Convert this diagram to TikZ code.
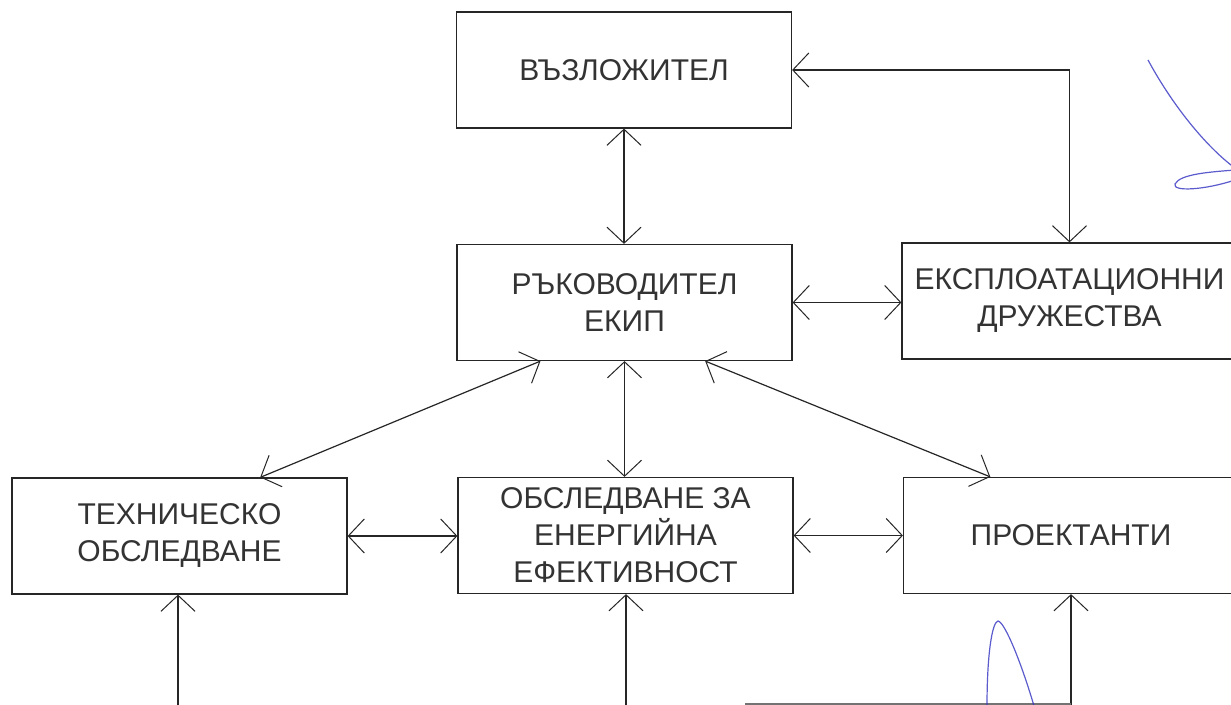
\documentclass[tikz,border=0pt]{standalone}
\usepackage{fontspec}
\setmainfont{Liberation Sans}
\usetikzlibrary{arrows.meta,calc}
\begin{document}
\begin{tikzpicture}[x=0.5pt,y=-0.5pt,
  box/.style={draw=black!85,line width=0.6pt,rectangle,minimum width=167.5pt,minimum height=58pt,
    inner sep=0pt,align=center,text=black!80,font=\fontsize{15pt}{18.5pt}\selectfont},
  link/.style={draw=black!85,line width=0.6pt},
  barb/.tip={Straight Barb[length=8pt,width=17pt,line width=0.5pt]},
  both/.style={link,barb-barb},
  up/.style={link,-barb},
  sig/.style={draw=blue!70!black!80,line width=0.6pt,opacity=0.8}]
\clip (0,0) rectangle (1231,705);
\fill[white] (0,0) rectangle (1231,705);
\node[box] (vaz) at (624,70) {ВЪЗЛОЖИТЕЛ};
\node[box] (ruk) at (624.5,302.5) {РЪКОВОДИТЕЛ\\ЕКИП};
\node[box] (eks) at (1069.5,301) {ЕКСПЛОАТАЦИОННИ\\ДРУЖЕСТВА};
\node[box] (teh) at (179.5,536) {ТЕХНИЧЕСКО\\ОБСЛЕДВАНЕ};
\node[box] (obs) at (625.5,535.5) {ОБСЛЕДВАНЕ ЗА\\ЕНЕРГИЙНА\\ЕФЕКТИВНОСТ};
\node[box] (pro) at (1071,535.5) {ПРОЕКТАНТИ};
% connectors
\draw[both] (vaz.south) -- (vaz.south |- ruk.north);
\draw[both] (vaz.east) -| (eks.north);
\draw[both] (ruk.east) -- (ruk.east -| eks.west);
\draw[both] ($(ruk.south west)!0.25!(ruk.south east)$) -- ($(teh.north west)!0.74!(teh.north east)$);
\draw[both] (ruk.south) -- (ruk.south |- obs.north);
\draw[both] ($(ruk.south west)!0.74!(ruk.south east)$) -- ($(pro.north west)!0.26!(pro.north east)$);
\draw[both] (teh.east) -- (teh.east -| obs.west);
\draw[both] (obs.east) -- (obs.east -| pro.west);
% bottom feeds
\coordinate (b1) at (178,706);
\coordinate (b2) at (626,706);
\coordinate (b3) at (1071,706);
\coordinate (b4) at (745,704);
\coordinate (b5) at (1071,704);
\draw[up] (b1) -- (b1 |- teh.south);
\draw[up] (b2) -- (b2 |- obs.south);
\draw[up] (b3) -- (b3 |- pro.south);
\draw[draw=black!55,line width=0.6pt] (b4) -- (b5);
% handwritten marks
\draw[sig] (1148,60) .. controls (1175,110) and (1210,150) .. (1235,168);
\draw[sig] (1235,170) .. controls (1210,172) and (1180,174) .. (1175,184)
  .. controls (1172,192) and (1205,190) .. (1235,180);
\draw[sig] (987,706) .. controls (987,655) and (992,622) .. (998,621)
  .. controls (1005,622) and (1022,665) .. (1034,706);
\end{tikzpicture}
\end{document}
